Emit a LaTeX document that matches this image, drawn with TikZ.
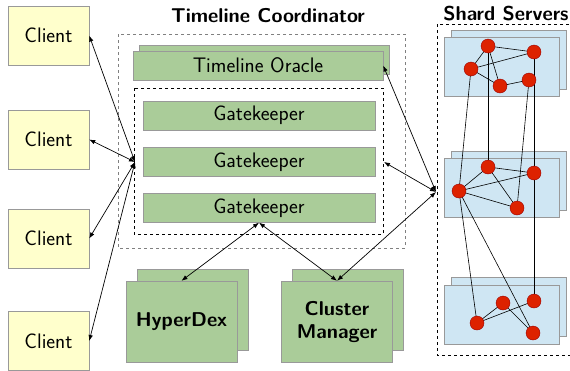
\documentclass[tikz,border=0pt]{standalone}
\usetikzlibrary{arrows.meta}

\definecolor{clientyellow}{HTML}{FFFFCC}
\definecolor{boxgreen}{HTML}{AACC99}
\definecolor{shardblue}{HTML}{CFE6F3}
\definecolor{replicared}{HTML}{DD2200}

\pgfdeclarelayer{back}
\pgfdeclarelayer{mid}
\pgfsetlayers{back,mid,main}

\tikzset{
  client/.style={draw=gray!80, fill=clientyellow, minimum width=81pt, minimum height=59pt,
    inner sep=0pt, font=\fontsize{21}{24}\selectfont\sffamily},
  greenbox/.style={draw=gray!80, fill=boxgreen, inner sep=0pt,
    font=\fontsize{21}{24}\selectfont\sffamily},
  bigbox/.style={greenbox, minimum width=111pt, minimum height=81pt, align=center,
    font=\fontsize{20}{23}\selectfont\sffamily\bfseries},
  shardbox/.style={draw=gray!80, fill=shardblue, minimum width=115pt, minimum height=59pt, inner sep=0pt},
  replica/.style={circle, draw=red!60!black, fill=replicared, minimum size=14pt, inner sep=0pt},
  link/.style={{Latex[length=6pt,width=4.5pt]}-{Latex[length=6pt,width=4.5pt]}, line width=0.7pt},
  title/.style={font=\fontsize{20}{23}\selectfont\sffamily\bfseries}
}

\begin{document}
\begin{tikzpicture}[x=1pt, y=-1pt]
  \useasboundingbox (0,0) rectangle (570,370);
  \clip (0,0) rectangle (570,370);

  % clients
  \node[client] (client1) at (48.5,35.5) {Client};
  \node[client] (client2) at (48.5,139.5) {Client};
  \node[client] (client3) at (48.5,238.5) {Client};
  \node[client] (client4) at (48.5,341) {Client};

  % timeline coordinator
  \node[title] (tctitle) at (268,16) {Timeline Coordinator};
  \draw[gray, dashed, line width=0.6pt] (118,34) rectangle (405,248);
  \node[greenbox, minimum width=250pt, minimum height=29pt] (oracleback) at (264,59.5) {};
  \node[greenbox, minimum width=250pt, minimum height=29pt] (oracle) at (258,65.5) {Timeline Oracle};
  \draw[black, dashed, line width=0.7pt] (134,88) rectangle (383,234);
  \coordinate (gkwest) at (135,162);
  \coordinate (gkeast) at (384,162);
  \node[greenbox, minimum width=232pt, minimum height=29pt] (gk1) at (259,115.5) {Gatekeeper};
  \node[greenbox, minimum width=232pt, minimum height=29pt] (gk2) at (259,162) {Gatekeeper};
  \node[greenbox, minimum width=232pt, minimum height=29pt] (gk3) at (259,208) {Gatekeeper};

  % hyperdex and cluster manager
  \node[bigbox] (hdback) at (192.5,309.5) {};
  \node[bigbox] (hyperdex) at (181.5,321.5) {HyperDex};
  \node[bigbox] (cmback) at (348,309.5) {};
  \node[bigbox] (manager) at (337,321.5) {Cluster\\Manager};

  % shard servers
  \node[title] (sstitle) at (506,14) {Shard Servers};
  \draw[black, dashed, line width=0.7pt] (437,24) rectangle (580,355);
  \coordinate (sswest) at (436,192);
  \begin{pgfonlayer}{back}
    \node[shardbox] (s1back) at (508.5,59.5) {};
    \node[shardbox] (s1) at (501.5,66.5) {};
    \node[shardbox] (s2back) at (508.5,181) {};
    \node[shardbox] (s2) at (501.5,187.5) {};
    \node[shardbox] (s3back) at (508.5,307) {};
    \node[shardbox] (s3) at (501.5,315) {};
  \end{pgfonlayer}

  \node[replica] (a1) at (488,46) {};
  \node[replica] (a2) at (534,52) {};
  \node[replica] (a3) at (471,69) {};
  \node[replica] (a4) at (500,86) {};
  \node[replica] (a5) at (529,80) {};
  \node[replica] (b1) at (488,167) {};
  \node[replica] (b2) at (534,173) {};
  \node[replica] (b3) at (459,191) {};
  \node[replica] (b4) at (517,208) {};
  \node[replica] (c1) at (503,303) {};
  \node[replica] (c2) at (534,301) {};
  \node[replica] (c3) at (477,323) {};
  \node[replica] (c4) at (533,333) {};

  \begin{pgfonlayer}{mid}
    \begin{scope}[line width=0.6pt]
      \draw (a1.center) -- (a2.center);
      \draw (a1.center) -- (a3.center);
      \draw (a1.center) -- (a4.center);
      \draw (a3.center) -- (a2.center);
      \draw (a3.center) -- (a4.center);
      \draw (a4.center) -- (a5.center);
      \draw (b1.center) -- (b2.center);
      \draw (b1.center) -- (b3.center);
      \draw (b1.center) -- (b4.center);
      \draw (b3.center) -- (b2.center);
      \draw (b3.center) -- (b4.center);
      \draw (c3.center) -- (c1.center);
      \draw (c3.center) -- (c2.center);
      \draw (c1.center) -- (c4.center);
      \draw (a3.center) -- (b3.center);
      \draw (a1.center) -- (b1.center);
      \draw (a5.center) -- (b4.center);
      \draw (a2.center) -- (b2.center);
      \draw (b2.center) -- (c2.center);
      \draw (b3.center) -- (c3.center);
      \draw (b3.center) -- (c4.center);
    \end{scope}
  \end{pgfonlayer}

  % arrows
  \draw[link] (client1.east) -- (gkwest);
  \draw[link] (client2.east) -- (gkwest);
  \draw[link] (client3.east) -- (gkwest);
  \draw[link] (client4.east) -- (gkwest);
  \draw[link] (sswest) -- (oracle.east);
  \draw[link] (sswest) -- (gkeast);
  \draw[link] (sswest) -- (manager.north);
  \draw[link] (gk3.south) -- (hyperdex.north);
  \draw[link] (gk3.south) -- (manager.north);
\end{tikzpicture}
\end{document}
